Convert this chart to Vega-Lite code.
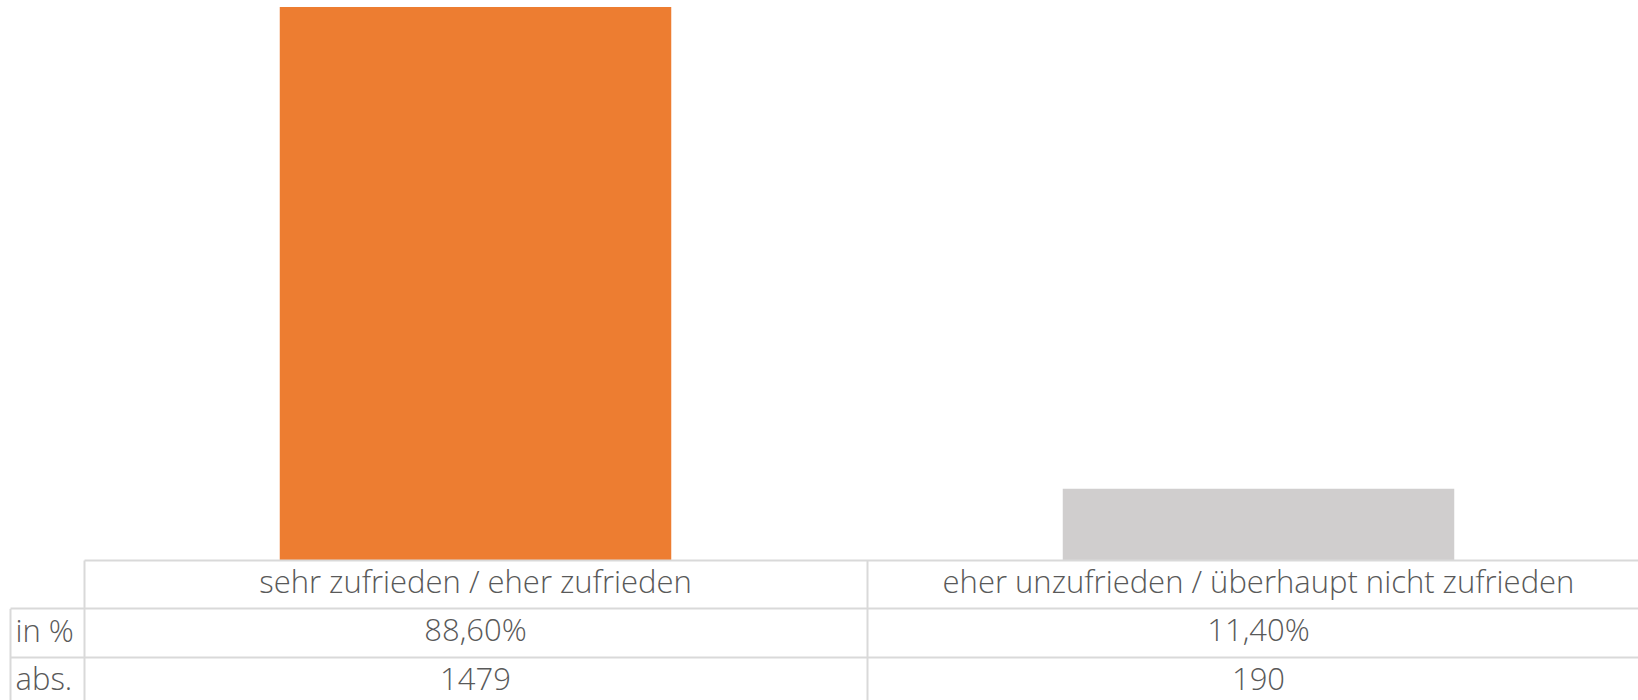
{
  "$schema": "https://vega.github.io/schema/vega-lite/v6.json",
  "padding": {"left": 9, "top": 7, "right": 0, "bottom": 0},
  "autosize": {"type": "pad"},
  "bounds": "flush",
  "spacing": 0,
  "datasets": {
    "umfrage": [
      {"kategorie": "sehr zufrieden / eher zufrieden", "anteil": 0.886, "anzahl": 1479},
      {"kategorie": "eher unzufrieden / überhaupt nicht zufrieden", "anteil": 0.114, "anzahl": 190}
    ]
  },
  "vconcat": [
    {
      "width": 1554,
      "height": 553,
      "data": {"name": "umfrage"},
      "mark": {"type": "bar", "width": {"band": 0.5}},
      "encoding": {
        "x": {"field": "kategorie", "type": "nominal", "sort": null,
              "scale": {"range": [0, 1566], "paddingInner": 0, "paddingOuter": 0}, "axis": null},
        "y": {"field": "anteil", "type": "quantitative",
              "scale": {"domain": [0, 0.886], "nice": false}, "axis": null},
        "color": {"field": "kategorie", "type": "nominal", "sort": null,
                  "scale": {"range": ["#ED7D31", "#D0CECE"]}, "legend": null}
      }
    },
    {
      "width": 1554,
      "height": 140,
      "data": {"name": "umfrage"},
      "layer": [
        {
          "mark": {"type": "text"},
          "encoding": {
            "x": {"field": "kategorie", "type": "nominal", "sort": null,
                  "scale": {"range": [0, 1566], "paddingInner": 0, "paddingOuter": 0},
                  "axis": {"grid": true, "tickOffset": -391.5, "gridColor": "#d9d9d9", "gridWidth": 2,
                           "labels": false, "ticks": false, "domain": false, "title": null, "orient": "top"}},
            "y": {"datum": "kopf", "type": "nominal",
                  "scale": {"domain": ["kopf", "in %", "abs."], "range": [0, 145], "paddingInner": 0, "paddingOuter": 0},
                  "axis": {"orient": "left", "grid": true, "tickOffset": -24.17, "gridColor": "#d9d9d9", "gridWidth": 2,
                           "labels": false, "ticks": true, "tickSize": 74, "tickWidth": 2,
                           "tickColor": {"condition": {"test": "datum.value === 'kopf'", "value": "transparent"}, "value": "#d9d9d9"},
                           "domain": false, "title": null}},
            "text": {"field": "kategorie"}
          }
        },
        {
          "transform": [
            {"fold": ["anteil", "anzahl"], "as": ["kennzahl", "wert"]},
            {"calculate": "datum.kennzahl === 'anteil' ? 'in %' : 'abs.'", "as": "zeile"},
            {"calculate": "datum.kennzahl === 'anteil' ? replace(format(datum.wert, '.2%'), '.', ',') : format(datum.wert, 'd')", "as": "beschriftung"}
          ],
          "mark": {"type": "text"},
          "encoding": {
            "x": {"field": "kategorie", "type": "nominal", "sort": null,
                  "scale": {"range": [0, 1566], "paddingInner": 0, "paddingOuter": 0},
                  "axis": {"grid": true, "tickOffset": -391.5, "gridColor": "#d9d9d9", "gridWidth": 2,
                           "labels": false, "ticks": false, "domain": false, "title": null, "orient": "top"}},
            "y": {"field": "zeile", "type": "nominal",
                  "scale": {"domain": ["in %", "abs."], "range": [48.33, 145], "paddingInner": 0, "paddingOuter": 0},
                  "axis": {"orient": "left", "offset": 74, "grid": false, "domain": true, "domainColor": "#d9d9d9", "domainWidth": 2,
                           "ticks": false, "tickSize": 0, "labelAlign": "left", "labelPadding": -5,
                           "labelFontSize": 31, "labelColor": "#595959", "labelFont": "Open Sans", "labelFontWeight": 300,
                           "title": null}},
            "text": {"field": "beschriftung"}
          }
        }
      ],
      "resolve": {"scale": {"y": "independent"}, "axis": {"y": "independent"}}
    }
  ],
  "config": {
    "view": {"stroke": null},
    "font": "Open Sans",
    "text": {"font": "Open Sans", "fontWeight": 300, "fontSize": 31, "color": "#595959"}
  }
}
